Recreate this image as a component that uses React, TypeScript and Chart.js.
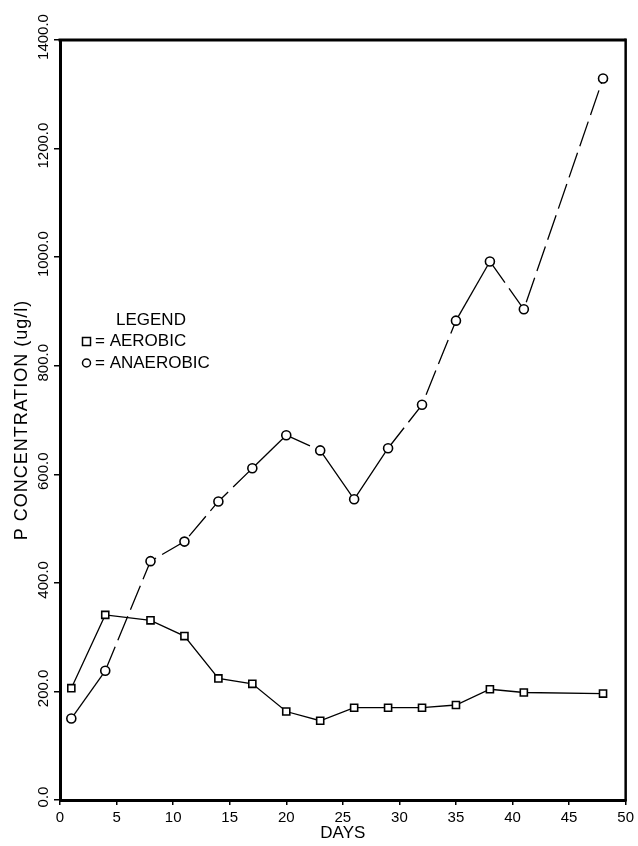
import React, { useEffect, useRef } from "react";
import { Chart, registerables } from "chart.js";

Chart.register(...registerables);

const days = [1, 4, 8, 11, 14, 17, 20, 23, 26, 29, 32, 35, 38, 41, 48];
const aerobic = [206, 341, 331, 302, 224, 214, 163, 146, 170, 170, 170, 175, 204, 198, 196];
const anaerobic = [150, 238, 440, 476, 550, 611, 672, 644, 554, 648, 728, 883, 992, 904, 1329];
const anaerobicSolidSegments = [0, 5, 7, 8, 11];
const yTickLabels = ["0.0", "200.0", "400.0", "600.0", "800.0", "1000.0", "1200.0", "1400.0"];
const legendTitle = "LEGEND";
const legendItems = ["= AEROBIC", "= ANAEROBIC"];
const yTitle = "P CONCENTRATION (ug/l)";
const xTitle = "DAYS";

const FONT = "'Liberation Sans', Arial, sans-serif";

const overlay = {
  id: "overlay",
  afterDraw(chart: any) {
    const { ctx, chartArea } = chart;
    const y = chart.scales.y;
    ctx.save();
    // top and right frame
    ctx.strokeStyle = "#000";
    ctx.lineWidth = 3;
    ctx.beginPath();
    ctx.moveTo(chartArea.left - 1.5, chartArea.top);
    ctx.lineTo(chartArea.right, chartArea.top);
    ctx.stroke();
    ctx.lineWidth = 2.5;
    ctx.beginPath();
    ctx.moveTo(chartArea.right, chartArea.top - 1.5);
    ctx.lineTo(chartArea.right, chartArea.bottom + 1.5);
    ctx.stroke();

    // y tick labels rotated
    ctx.fillStyle = "#000";
    ctx.font = `15px ${FONT}`;
    ctx.textAlign = "center";
    ctx.textBaseline = "middle";
    y.ticks.forEach((t: any, i: number) => {
      const py = y.getPixelForValue(t.value);
      ctx.save();
      ctx.translate(44, py - 3);
      ctx.rotate(-Math.PI / 2);
      ctx.fillText(yTickLabels[i] ?? String(t.value), 0, 0);
      ctx.restore();
    });

    // y title
    ctx.save();
    ctx.font = `18px ${FONT}`;
    (ctx as any).letterSpacing = "1px";
    ctx.translate(22, (chartArea.top + chartArea.bottom) / 2);
    ctx.rotate(-Math.PI / 2);
    ctx.fillText(yTitle, 0, 0);
    ctx.restore();

    // legend
    ctx.font = `17px ${FONT}`;
    ctx.textAlign = "left";
    ctx.textBaseline = "middle";
    ctx.fillText(legendTitle, 116, 320);
    ctx.lineWidth = 1.5;
    ctx.strokeStyle = "#000";
    ctx.fillStyle = "#fff";
    ctx.fillRect(82.5, 337.5, 8, 8);
    ctx.strokeRect(82.5, 337.5, 8, 8);
    ctx.beginPath();
    ctx.arc(86.5, 363, 4, 0, Math.PI * 2);
    ctx.fill();
    ctx.stroke();
    ctx.fillStyle = "#000";
    ctx.fillText(legendItems[0], 95, 341);
    ctx.fillText(legendItems[1], 95, 363);
    ctx.restore();
  },
};

export default function App() {
  const ref = useRef<HTMLCanvasElement | null>(null);
  useEffect(() => {
    if (!ref.current) return;
    const chart = new Chart(ref.current, {
      type: "scatter",
      data: {
        datasets: [
          {
            label: "AEROBIC",
            data: days.map((d, i) => ({ x: d, y: aerobic[i] })),
            showLine: true,
            borderColor: "#000",
            borderWidth: 1.3,
            pointStyle: "rect",
            pointRadius: 5,
            pointBackgroundColor: "#fff",
            pointBorderColor: "#000",
            pointBorderWidth: 1.6,
          },
          {
            label: "ANAEROBIC",
            data: days.map((d, i) => ({ x: d, y: anaerobic[i] })),
            showLine: true,
            borderColor: "#000",
            borderWidth: 1.3,
            segment: {
              borderDash: (c: any) =>
                anaerobicSolidSegments.includes(c.p0DataIndex) ? [] : [26, 7],
            },
            pointStyle: "circle",
            pointRadius: 4.5,
            pointBackgroundColor: "#fff",
            pointBorderColor: "#000",
            pointBorderWidth: 1.6,
          },
        ],
      },
      options: {
        responsive: false,
        animation: false,
        layout: { padding: { top: 40, right: 9, left: 0, bottom: 0 } },
        plugins: { legend: { display: false }, tooltip: { enabled: false } },
        scales: {
          x: {
            type: "linear",
            min: 0,
            max: 50,
            ticks: {
              stepSize: 5,
              color: "#000",
              font: { family: FONT, size: 15 },
              padding: 4,
              maxRotation: 0,
            },
            grid: {
              drawOnChartArea: false,
              drawTicks: true,
              tickLength: 5,
              color: "#000",
              lineWidth: 1.5,
            },
            border: { display: true, color: "#000", width: 3 },
            title: {
              display: true,
              text: xTitle,
              color: "#000",
              font: { family: FONT, size: 17 },
              padding: { top: 0, bottom: 2 },
            },
            afterFit: (s: any) => {
              s.height = 46;
            },
          },
          y: {
            type: "linear",
            min: 0,
            max: 1400,
            ticks: { stepSize: 200, display: false },
            grid: {
              drawOnChartArea: false,
              drawTicks: true,
              tickLength: 6,
              color: "#000",
              lineWidth: 1.5,
            },
            border: { display: true, color: "#000", width: 3 },
            afterFit: (s: any) => {
              s.width = 60;
            },
          },
        },
      },
      plugins: [overlay],
    });
    return () => chart.destroy();
  }, []);
  return (
    <div style={{ position: "absolute", left: 0, top: 0, width: 638, height: 846, background: "#fff" }}>
      <canvas ref={ref} width={638} height={846} style={{ display: "block" }} />
    </div>
  );
}
